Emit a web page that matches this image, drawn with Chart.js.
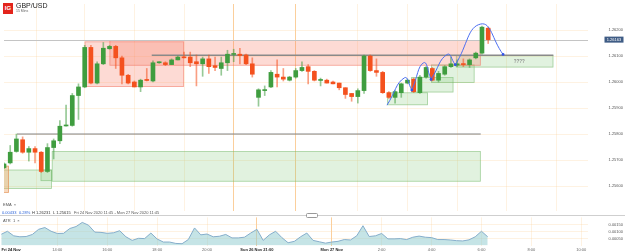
<!DOCTYPE html>
<html><head><meta charset="utf-8">
<script src="https://cdn.jsdelivr.net/npm/chart.js"></script>
<style>
html,body{margin:0;padding:0;background:#fff}
body{width:625px;height:252px;overflow:hidden;position:relative;font-family:"Liberation Sans",Arial,sans-serif}
canvas{position:absolute;left:0}
#main{top:0}
#atr{top:215px}
.t{position:absolute;white-space:nowrap;line-height:1}
</style></head><body>
<canvas id="main" width="625" height="215"></canvas>
<canvas id="atr" width="625" height="37"></canvas>
<div class="t" style="left:3px;top:3px;width:10px;height:11px;background:#e3241b;color:#fff;font-weight:bold;font-size:6px;text-align:center;line-height:11px">IG</div>
<div class="t" style="left:16px;top:1.5px;font-size:7px;color:#222">GBP/USD</div>
<div class="t" style="left:16px;top:9.5px;font-size:3.5px;color:#666">15 Mins</div>
<div class="t" style="left:3px;top:203px;font-size:4px;color:#555">EMA &nbsp;×</div>
<div class="t" style="left:2px;top:210.5px;font-size:4px;color:#2a62d8">0.00433</div>
<div class="t" style="left:19px;top:210.5px;font-size:4px;color:#2a62d8">0.28%</div>
<div class="t" style="left:32px;top:210.5px;font-size:4px;color:#333">H 1.26231</div>
<div class="t" style="left:53px;top:210.5px;font-size:4px;color:#333">L 1.25615</div>
<div class="t" style="left:74px;top:210.5px;font-size:4px;color:#555">Fri 24 Nov 2020 11:45 - Mon 27 Nov 2020 11:45</div>
<div class="t" style="left:0;top:214.5px;width:625px;height:1px;background:#cfcfcf"></div>
<div class="t" style="left:306px;top:213px;width:10px;height:3px;background:#fff;border:0.5px solid #999;border-radius:1.5px"></div>
<div class="t" style="left:3px;top:219px;font-size:4px;color:#555">ATR &nbsp;1 &nbsp;×</div>
<script>
// ---- data (15-minute candles, index = slot from Fri 24 Nov 11:45) ----
const opens = [1.25670,1.25689,1.25733,1.25778,1.25730,1.25744,1.25730,1.25656,1.25748,1.25774,
1.25831,1.25833,1.25948,1.25981,1.26133,1.25996,1.26070,1.26128,1.26137,1.26093,
1.26026,1.26000,1.25981,1.26007,1.26004,1.26074,1.26074,1.26067,1.26085,1.26096,
1.26096,1.26078,1.26070,1.26089,1.26063,1.26052,1.26074,1.26106,1.26107,1.26104,
1.26070,1.25941,1.25967,1.25981,1.26030,1.26019,1.26007,1.26019,1.26044,1.26059,
1.26041,1.26006,1.26007,1.26000,1.25996,1.25978,1.25956,1.25944,1.25967,1.26100,
1.26044,1.26037,1.25959,1.25941,1.25959,1.25996,1.26011,1.25959,1.26019,1.26052,
1.26007,1.26030,1.26059,1.26065,1.26070,1.26067,1.26093,1.26111,1.26207];
const highs = [1.25689,1.25756,1.25800,1.25789,1.25752,1.25752,1.25733,1.25763,1.25781,1.25852,
1.25911,1.25956,1.25993,1.26141,1.26141,1.26078,1.26152,1.26141,1.26141,1.26100,
1.26030,1.26004,1.26011,1.26052,1.26081,1.26078,1.26078,1.26089,1.26100,1.26115,
1.26115,1.26104,1.26096,1.26104,1.26096,1.26096,1.26122,1.26126,1.26130,1.26107,
1.26093,1.25974,1.25985,1.26044,1.26085,1.26052,1.26022,1.26052,1.26078,1.26067,
1.26044,1.26015,1.26011,1.26004,1.25996,1.25978,1.25956,1.25974,1.26104,1.26104,
1.26089,1.26041,1.25963,1.25967,1.25996,1.26011,1.26015,1.26026,1.26059,1.26056,
1.26041,1.26063,1.26096,1.26085,1.26089,1.26089,1.26115,1.26215,1.26211];
const lows = [1.25667,1.25685,1.25730,1.25726,1.25696,1.25689,1.25652,1.25652,1.25704,1.25763,
1.25830,1.25830,1.25856,1.25978,1.25993,1.25993,1.26067,1.26126,1.26052,1.25993,
1.25993,1.25981,1.25963,1.26004,1.26000,1.26072,1.26063,1.26067,1.26085,1.26093,
1.26059,1.25985,1.26022,1.26033,1.26044,1.26026,1.26044,1.26078,1.26070,1.26067,
1.26019,1.25907,1.25948,1.25978,1.25981,1.26004,1.26004,1.26015,1.26041,1.25993,
1.26004,1.25985,1.25996,1.25993,1.25970,1.25937,1.25926,1.25919,1.25956,1.26041,
1.26022,1.25956,1.25937,1.25919,1.25941,1.25993,1.25959,1.25956,1.26015,1.26004,
1.26000,1.26026,1.26056,1.26059,1.26059,1.26056,1.26089,1.26107,1.26148];
const closes = [1.25685,1.25730,1.25781,1.25730,1.25744,1.25730,1.25656,1.25748,1.25774,1.25830,
1.25833,1.25948,1.25981,1.26133,1.25996,1.26070,1.26130,1.26137,1.26093,1.26026,
1.25996,1.25981,1.26007,1.26006,1.26074,1.26076,1.26067,1.26085,1.26096,1.26093,
1.26074,1.26070,1.26089,1.26059,1.26056,1.26074,1.26107,1.26109,1.26102,1.26070,
1.26030,1.25970,1.25970,1.26037,1.26019,1.26011,1.26019,1.26044,1.26056,1.26041,
1.26007,1.26007,1.25996,1.25993,1.25978,1.25952,1.25944,1.25967,1.26100,1.26044,
1.26037,1.25959,1.25941,1.25963,1.25993,1.26007,1.25963,1.26019,1.26056,1.26007,
1.26033,1.26059,1.26070,1.26070,1.26067,1.26085,1.26111,1.26211,1.26163];
const atrValues = [0.00081,0.00103,0.00070,0.00063,0.00065,0.00080,0.00117,0.00130,0.00103,0.00087,
0.00088,0.00123,0.00137,0.00167,0.00147,0.00097,0.00095,0.00088,0.00092,0.00107,
0.00063,0.00037,0.00052,0.00050,0.00090,0.00047,0.00025,0.00025,0.00015,0.00013,
0.00043,0.00127,0.00077,0.00083,0.00063,0.00067,0.00080,0.00055,0.00055,0.00060,
0.00090,0.00117,0.00037,0.00077,0.00103,0.00057,0.00020,0.00030,0.00063,0.00090,
0.00037,0.00027,0.00017,0.00025,0.00030,0.00043,0.00040,0.00070,0.00143,0.00065,
0.00070,0.00087,0.00048,0.00048,0.00050,0.00043,0.00060,0.00068,0.00060,0.00057,
0.00043,0.00043,0.00040,0.00035,0.00033,0.00041,0.00063,0.00103,0.00063];
const xTickSlots = [1.6,9,17,25,33,41,53,61,69,77,85,93];
const xTickLabels = ['Fri 24 Nov','14:00','16:00','18:00','20:00','Sun 26 Nov 21:00','Mon 27 Nov','2:00','4:00','6:00','8:00','10:00'];
const dayTickIdx = [0,5,6];
const yTicks = [1.256,1.257,1.258,1.259,1.260,1.261,1.262];
const atrTicks = [0.0005,0.0010,0.0015];
// zones: [fromSlot, toSlot, priceTop, priceBottom]
const redZones = [[13,29,1.26156,1.25981],[17,76.8,1.26161,1.26063]];
const greenZones = [[-2,7.7,1.25663,1.25589],[5.9,7.7,1.25663,1.25619],[7.7,76.8,1.25734,1.25617],
  [61.7,68.3,1.25960,1.25911],[65.6,72.4,1.26019,1.25960],[68.8,75.8,1.26067,1.25997],[72.8,88.5,1.26103,1.26056]];
const orangeZones = [[-2,0.8,1.25678,1.25574]];
// levels: [fromSlot, toSlot, price]
const levels = [[2.1,76.8,1.25800],[23.8,88.5,1.26103]];
// arcs: three points each [slot, price]
const arcs = [
  [[61.7,1.25911],[64.5,1.26016],[65.7,1.25969]],
  [[65.7,1.25969],[67.6,1.26074],[68.8,1.26010]],
  [[68.8,1.26010],[71.4,1.26106],[72.7,1.26066]],
  [[72.7,1.26066],[76.8,1.26223],[80.4,1.26106]]
];
const noteLabel = {slot:83, price:1.26078, text:'????'};

// ---- styling ----
const GREEN='#3f9d3f', RED='#f4511e';
const GREEN_W='rgba(63,157,63,0.55)', RED_W='rgba(244,81,30,0.55)';
const FONT='"Liberation Sans", Arial, sans-serif';
const X_MIN=0, X_MAX=94.08;
const GRID='rgba(252,208,150,0.28)';
const gridCol = (v)=> (v===41||v===53) ? 'rgba(248,175,90,0.6)' : (v===1.6 ? 'rgba(0,0,0,0)' : GRID);
const xFit = s=>{s.ticks = xTickSlots.map(v=>({value:v}));};
const idx = opens.map((_,i)=>i);
const up = i => closes[i] >= opens[i];

const annot = {
  id:'annot',
  beforeDatasetsDraw(chart){
    const {ctx, chartArea:a, scales:{x,y}} = chart;
    ctx.save();
    ctx.beginPath(); ctx.rect(a.left,a.top,a.right-a.left,a.bottom-a.top); ctx.clip();
    const box=(b,fill,stroke)=>{
      const x0=x.getPixelForValue(b[0]), x1=x.getPixelForValue(b[1]);
      const y0=y.getPixelForValue(b[2]), y1=y.getPixelForValue(b[3]);
      ctx.fillStyle=fill; ctx.fillRect(x0,y0,x1-x0,y1-y0);
      ctx.strokeStyle=stroke; ctx.lineWidth=0.8; ctx.strokeRect(x0+0.4,y0+0.4,x1-x0-0.8,y1-y0-0.8);
    };
    greenZones.forEach(b=>box(b,'rgba(130,200,120,0.24)','rgba(110,180,100,0.55)'));
    orangeZones.forEach(b=>box(b,'rgba(240,170,110,0.45)','rgba(225,140,80,0.7)'));
    redZones.forEach(b=>box(b,'rgba(248,120,95,0.27)','rgba(240,110,90,0.55)'));
    const py=Math.round(y.getPixelForValue(closes[closes.length-1]))+0.5;
    ctx.strokeStyle='#c4c4c4'; ctx.lineWidth=1;
    ctx.beginPath(); ctx.moveTo(a.left,py); ctx.lineTo(a.right,py); ctx.stroke();
    levels.forEach((l,k)=>{
      const yy=y.getPixelForValue(l[2]);
      ctx.strokeStyle= k===0 ? '#808080' : '#8a8a8a'; ctx.lineWidth= k===0 ? 1 : 1.6;
      ctx.beginPath(); ctx.moveTo(x.getPixelForValue(l[0]),yy); ctx.lineTo(x.getPixelForValue(l[1]),yy); ctx.stroke();
    });
    ctx.restore();
  },
  afterDraw(chart){
    const {ctx, scales:{x,y}} = chart;
    ctx.save();
    ctx.fillStyle='#8a8a8a'; ctx.font='bold 4.5px '+FONT; ctx.textAlign='center'; ctx.textBaseline='middle';
    ctx.fillText(noteLabel.text, x.getPixelForValue(noteLabel.slot), y.getPixelForValue(noteLabel.price));
    const last=closes[closes.length-1];
    const py=y.getPixelForValue(last);
    ctx.fillStyle='#3f5c85';
    ctx.fillRect(604.5,py-3,19,6);
    ctx.fillStyle='#fff'; ctx.font='4px '+FONT; ctx.textAlign='center';
    ctx.fillText(last.toFixed(5),614,py+0.3);
    ctx.restore();
  }
};

const arcSets = arcs.map(a=>({
  type:'line',
  data:a.map(p=>({x:p[0],y:p[1]})),
  borderColor:'#4b6df0', borderWidth:1, tension:0.5, fill:false,
  pointRadius:[0,0,1.4], pointBackgroundColor:'#3556e8', pointBorderWidth:0,
  order:0
}));

new Chart(document.getElementById('main'), {
  type:'bar',
  data:{datasets:[
    {type:'bar', data:idx.map(i=>({x:i,y:[lows[i],highs[i]]})), barThickness:1, grouped:false,
     backgroundColor:idx.map(i=>up(i)?GREEN_W:RED_W), order:3},
    {type:'bar', data:idx.map(i=>({x:i,y:[opens[i],closes[i]]})), barThickness:4, minBarLength:1, grouped:false,
     backgroundColor:idx.map(i=>up(i)?GREEN:RED), order:2},
    ...arcSets
  ]},
  options:{
    responsive:false, animation:false, devicePixelRatio:1,
    layout:{padding:{left:0,right:2,top:0,bottom:0}},
    plugins:{legend:{display:false}, tooltip:{enabled:false}},
    scales:{
      x:{type:'linear', min:X_MIN, max:X_MAX, offset:false,
         afterBuildTicks:xFit,
         ticks:{display:false},
         grid:{color:c=>gridCol(c.tick&&c.tick.value), drawTicks:false, lineWidth:1},
         border:{display:false},
         afterFit:s=>{s.height=0;}},
      y:{type:'linear', position:'right', min:1.25504, max:1.26300,
         afterBuildTicks:s=>{s.ticks=yTicks.map(v=>({value:v}));},
         ticks:{callback:v=>v.toFixed(5), font:{size:4,family:FONT}, color:'#555', crossAlign:'far', padding:0},
         grid:{color:GRID, drawTicks:false},
         border:{display:false},
         afterFit:s=>{s.width=35;}}
    }
  },
  plugins:[annot]
});

new Chart(document.getElementById('atr'), {
  type:'line',
  data:{datasets:[{data:idx.map(i=>({x:i,y:atrValues[i]})), borderColor:'#86aecb', borderWidth:1,
    backgroundColor:'rgba(150,205,210,0.55)', fill:'origin', pointRadius:0, tension:0}]},
  options:{
    responsive:false, animation:false, devicePixelRatio:1,
    layout:{padding:{left:0,right:2,top:0,bottom:0}},
    plugins:{legend:{display:false}, tooltip:{enabled:false}},
    scales:{
      x:{type:'linear', min:X_MIN, max:X_MAX, offset:false,
         afterBuildTicks:xFit,
         ticks:{callback:(v,i)=>xTickLabels[i], maxRotation:0, autoSkip:false, padding:1.5,
           font:c=>({size:4,family:FONT,weight:dayTickIdx.includes(c.index)?'bold':'normal'}),
           color:c=>dayTickIdx.includes(c.index)?'#222':'#666'},
         grid:{color:c=>gridCol(c.tick&&c.tick.value), drawTicks:false},
         border:{display:false},
         afterFit:s=>{s.height=6.5;}},
      y:{type:'linear', position:'right', min:0, max:0.002033,
         afterBuildTicks:s=>{s.ticks=atrTicks.map(v=>({value:v}));},
         ticks:{callback:v=>v.toFixed(5), font:{size:4,family:FONT}, color:'#555', crossAlign:'far', padding:0},
         grid:{color:GRID, drawTicks:false},
         border:{display:false},
         afterFit:s=>{s.width=35;}}
    }
  }
});
</script>
</body></html>
